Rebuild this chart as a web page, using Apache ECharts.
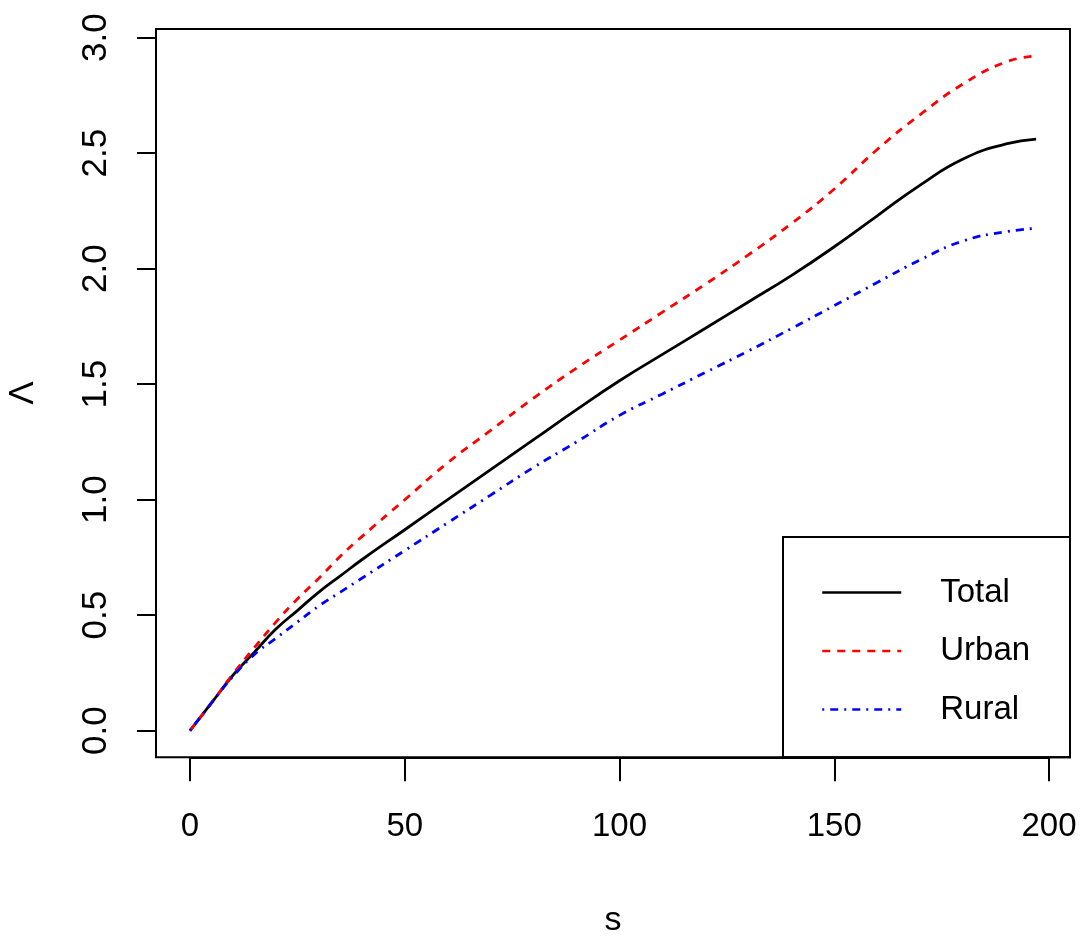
<!DOCTYPE html>
<html><head><meta charset="utf-8">
<script src="https://cdn.jsdelivr.net/npm/echarts@6/dist/echarts.min.js"></script>
<style>html,body{margin:0;padding:0;background:#fff}#c{width:1083px;height:941px}</style>
</head><body><div id="c"></div>
<script>
const sValues = [0,5,10,15,20,25,30,35,40,50,60,70,80,90,100,110,120,130,140,150,160,170,180,190,197];
const totalValues = [0,0.12,0.24,0.34,0.44,0.52,0.60,0.67,0.74,0.87,1.00,1.13,1.26,1.39,1.515,1.629,1.742,1.856,1.97,2.095,2.229,2.362,2.475,2.54,2.561];
const urbanValues = [0,0.12,0.245,0.36,0.47,0.57,0.66,0.755,0.84,1.00,1.16,1.30,1.44,1.57,1.691,1.812,1.933,2.06,2.195,2.345,2.516,2.667,2.80,2.895,2.921];
const ruralValues = [0,0.12,0.235,0.33,0.40,0.47,0.54,0.60,0.66,0.78,0.90,1.02,1.14,1.25,1.365,1.458,1.551,1.644,1.741,1.84,1.94,2.038,2.12,2.16,2.175];
const seriesNames = ['Total','Urban','Rural'];
const xTicks = [0,50,100,150,200];
const yTicks = [0,0.5,1,1.5,2,2.5,3];
const xTitle = 's';
const yTitle = 'Λ';

const FONT = '"Liberation Sans", Arial, Helvetica, sans-serif';
const pair = (ys) => sValues.map((s,i)=>[s, ys[i]]);

const chart = echarts.init(document.getElementById('c'), null, {renderer:'canvas'});
const baseLine = {smooth:0.5, showSymbol:false, symbol:'none', clip:false, animation:false};
chart.setOption({
  backgroundColor:'#fff',
  animation:false,
  grid:{left:190, right:34, top:37.7, bottom:210.3, outerBoundsMode:'none', containLabel:false},
  xAxis:{type:'value', min:xTicks[0], max:xTicks[xTicks.length-1], interval:50, offset:26.6,
    splitLine:{show:false},
    axisLine:{show:true, onZero:false, lineStyle:{color:'#000', width:2}},
    axisTick:{show:true, inside:false, length:24, lineStyle:{color:'#000', width:2}},
    axisLabel:{show:true, margin:70, fontSize:33, fontFamily:FONT, color:'#000', verticalAlign:'middle', formatter:(v)=>String(v)}
  },
  yAxis:{type:'value', min:yTicks[0], max:yTicks[yTicks.length-1], interval:0.5, offset:34,
    splitLine:{show:false},
    axisLine:{show:true, onZero:false, lineStyle:{color:'#000', width:2}},
    axisTick:{show:true, inside:false, length:19, lineStyle:{color:'#000', width:2}},
    axisLabel:{show:true, margin:42, rotate:90, align:'center', verticalAlign:'bottom', fontSize:35, fontFamily:FONT, color:'#000', formatter:(v)=>v.toFixed(1)}
  },
  legend:{show:true, orient:'vertical', left:821, top:576, itemWidth:79, itemHeight:30, itemGap:25.5, padding:0,
    data:seriesNames,
    itemStyle:{opacity:0, borderWidth:0},
    lineStyle:{width:2.5},
    textStyle:{fontSize:33, fontFamily:FONT, color:'#000', padding:[0,0,0,34]}
  },
  graphic:[
    {type:'rect', shape:{x:156, y:29, width:914, height:728.3}, style:{fill:'none', stroke:'#000', lineWidth:2}, z:10},
    {type:'rect', shape:{x:783, y:537, width:287, height:220.3}, style:{fill:'none', stroke:'#000', lineWidth:2}, z:10},
    {type:'text', x:613, y:921, style:{text:xTitle, fontSize:34, fontFamily:FONT, fill:'#000', textAlign:'center', textVerticalAlign:'middle'}},
    {type:'text', x:23, y:393, rotation:Math.PI/2, style:{text:yTitle, fontSize:35, fontFamily:FONT, fill:'#000', textAlign:'center', textVerticalAlign:'middle'}}
  ],
  series:[
    Object.assign({type:'line', name:seriesNames[0], data:pair(totalValues), color:'#000',
      lineStyle:{color:'#000', width:2.8, type:'solid'}}, baseLine),
    Object.assign({type:'line', name:seriesNames[1], data:pair(urbanValues), color:'#ff0000',
      lineStyle:{color:'#ff0000', width:2.8, type:[8,7]}}, baseLine),
    Object.assign({type:'line', name:seriesNames[2], data:pair(ruralValues), color:'#0000ff',
      lineStyle:{color:'#0000ff', width:2.8, type:[2,6,8,6]}}, baseLine)
  ]
});
</script>
</body></html>
